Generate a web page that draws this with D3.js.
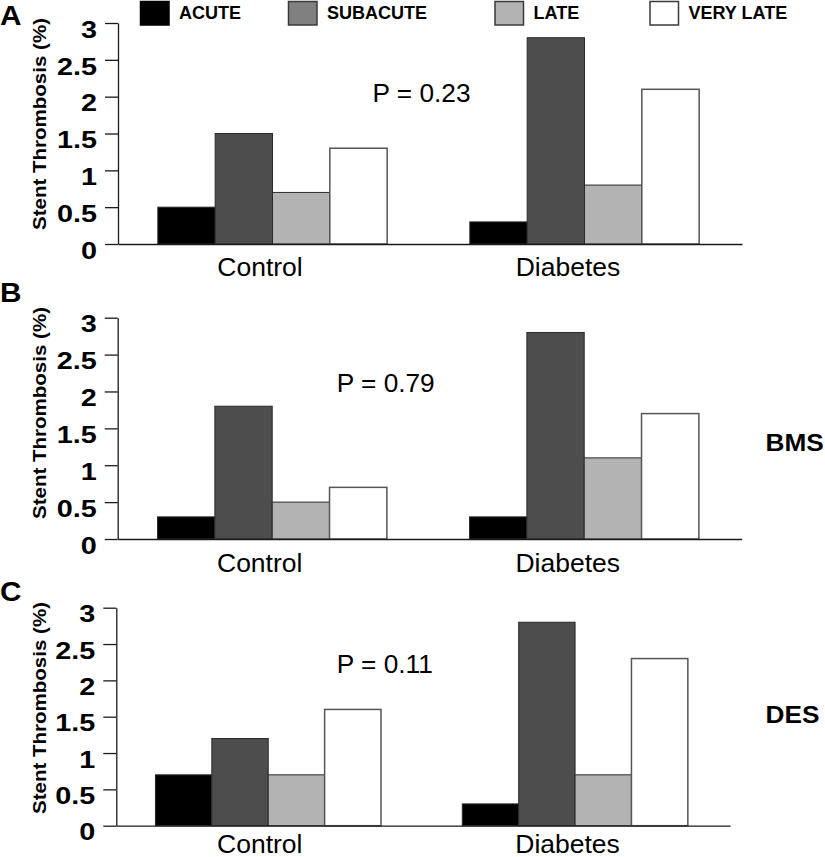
<!DOCTYPE html>
<html>
<head>
<meta charset="utf-8">
<script src="https://cdn.jsdelivr.net/npm/d3@7"></script>
<style>
  html, body { margin: 0; padding: 0; background: #fff; }
  svg { display: block; }
  text { font-family: "Liberation Sans", Arial, Helvetica, sans-serif; fill: #000; }
</style>
</head>
<body>
<svg id="chart" width="825" height="857"></svg>
<script>
// ---------- DATA ----------
const categories = ["Control", "Diabetes"];
const series = ["ACUTE", "SUBACUTE", "LATE", "VERY LATE"];
const yTicks = [0, 0.5, 1, 1.5, 2, 2.5, 3];

// Panel A (all stents)
const panelAControl = [0.5, 1.5, 0.7, 1.3];
const panelADiabetes = [0.3, 2.8, 0.8, 2.1];
// Panel B (BMS)
const panelBControl = [0.3, 1.8, 0.5, 0.7];
const panelBDiabetes = [0.3, 2.8, 1.1, 1.7];
// Panel C (DES)
const panelCControl = [0.7, 1.2, 0.7, 1.6];
const panelCDiabetes = [0.3, 2.8, 0.7, 2.3];

const pValues = ["P = 0.23", "P = 0.79", "P = 0.11"];
const panelLetters = ["A", "B", "C"];
const sideLabels = ["", "BMS", "DES"];
const yTitle = "Stent Thrombosis (%)";

// ---------- STYLE / LAYOUT ----------
const barColors = {"ACUTE": "#000000", "SUBACUTE": "#4d4d4d", "LATE": "#b3b3b3", "VERY LATE": "#ffffff"};
const legendColors = {"ACUTE": "#000000", "SUBACUTE": "#808080", "LATE": "#b3b3b3", "VERY LATE": "#ffffff"};
const legendX = [140.5, 288.5, 495, 650];

const panels = [
  {values: [panelAControl, panelADiabetes], axisX: 118, xEnd: 742, y0: 244, y3: 23,
   labelShift: [-14, -18], catY: 32, pX: 372.5, pY: 102, letterY: 25, titleY: 124, sideY: 0},
  {values: [panelBControl, panelBDiabetes], axisX: 117.7, xEnd: 741.7, y0: 539, y3: 317.7,
   labelShift: [-14, -18], catY: 32.7, pX: 336.7, pY: 391.5, letterY: 302, titleY: 413, sideY: 450.7},
  {values: [panelCControl, panelCDiabetes], axisX: 116.3, xEnd: 730, y0: 825.7, y3: 607.7,
   labelShift: [-10, -9], catY: 27.5, pX: 336.7, pY: 672.7, letterY: 600.5, titleY: 708, sideY: 723.3}
];

const svg = d3.select("#chart");

// ---------- LEGEND ----------
const legend = svg.append("g").attr("class", "legend");
series.forEach((s, i) => {
  legend.append("rect")
    .attr("x", legendX[i]).attr("y", 1.5)
    .attr("width", 28.5).attr("height", 23.5)
    .attr("fill", legendColors[s])
    .attr("stroke", s === "ACUTE" ? "#000" : "#3a3a3a")
    .attr("stroke-width", 1.5);
  legend.append("text")
    .attr("transform", `translate(${legendX[i] + 38.5},18.5) scale(1.03,1)`)
    .attr("font-size", 17.5).attr("font-weight", "bold")
    .text(s);
});

// ---------- PANELS ----------
panels.forEach((p, pi) => {
  const g = svg.append("g").attr("class", "panel");
  const y = d3.scaleLinear().domain([0, 3]).range([p.y0, p.y3]);
  const x0 = d3.scaleBand().domain(categories).range([p.axisX, p.xEnd]).padding(0);
  const groupW = x0.bandwidth() * 0.735;
  const x1 = d3.scaleBand().domain(series).range([0, groupW]).padding(0);
  const groupOffset = (x0.bandwidth() - groupW) / 2 - 1.5;

  // bars
  categories.forEach((c, ci) => {
    g.selectAll(null)
      .data(series.map((s, si) => ({s, v: p.values[ci][si]})))
      .enter().append("rect")
      .attr("x", d => x0(c) + groupOffset + x1(d.s))
      .attr("y", d => y(d.v))
      .attr("width", x1.bandwidth())
      .attr("height", d => y(0) - y(d.v))
      .attr("fill", d => barColors[d.s])
      .attr("stroke", d => d.s === "VERY LATE" ? "#555" : "#2a2a2a")
      .attr("stroke-width", d => d.s === "VERY LATE" ? 1.5 : 1);
  });

  // y axis
  const yAxis = g.append("g")
    .attr("transform", `translate(${p.axisX},0)`)
    .call(d3.axisLeft(y).tickValues(yTicks).tickSize(13).tickSizeOuter(0).tickFormat(d => String(d)));
  yAxis.select(".domain").attr("stroke", "#1a1a1a").attr("stroke-width", 1.3);
  yAxis.selectAll(".tick line").attr("stroke", "#1a1a1a").attr("stroke-width", 1.3);
  yAxis.selectAll(".tick text")
    .attr("x", 0).attr("dy", "0.32em")
    .attr("transform", "translate(-21,6.5) scale(1.2,1)")
    .attr("font-size", 24).attr("font-weight", "bold")
    .attr("font-family", "Liberation Sans, Arial, sans-serif")
    .attr("fill", "#000");

  // x axis
  const xAxis = g.append("g")
    .attr("transform", `translate(0,${p.y0})`)
    .call(d3.axisBottom(x0).tickSize(0).tickSizeOuter(0));
  xAxis.select(".domain").attr("stroke", "#1a1a1a").attr("stroke-width", 1.3);
  xAxis.selectAll(".tick text")
    .attr("x", 0).attr("y", p.catY).attr("dy", 0)
    .attr("transform", (d, i) => `translate(${p.labelShift[i]},0) scale(1.06,1)`)
    .attr("font-size", 25)
    .attr("font-family", "Liberation Sans, Arial, sans-serif")
    .attr("fill", "#000");

  // y title
  g.append("text")
    .attr("transform", `translate(45.5,${p.titleY}) rotate(-90)`)
    .attr("text-anchor", "middle")
    .attr("font-size", 18.5).attr("font-weight", "bold")
    .attr("textLength", 212).attr("lengthAdjust", "spacingAndGlyphs")
    .text(yTitle);

  // panel letter
  g.append("text")
    .attr("transform", `translate(0,${p.letterY}) scale(1.1,1)`)
    .attr("font-size", 27).attr("font-weight", "bold")
    .text(panelLetters[pi]);

  // P value
  g.append("text")
    .attr("transform", `translate(${p.pX},${p.pY}) scale(1.05,1)`)
    .attr("font-size", 25)
    .text(pValues[pi]);

  // side label
  if (sideLabels[pi]) {
    g.append("text")
      .attr("transform", `translate(765.5,${p.sideY}) scale(1.07,1)`)
      .attr("font-size", 24.5).attr("font-weight", "bold")
      .text(sideLabels[pi]);
  }
});
</script>
</body>
</html>
